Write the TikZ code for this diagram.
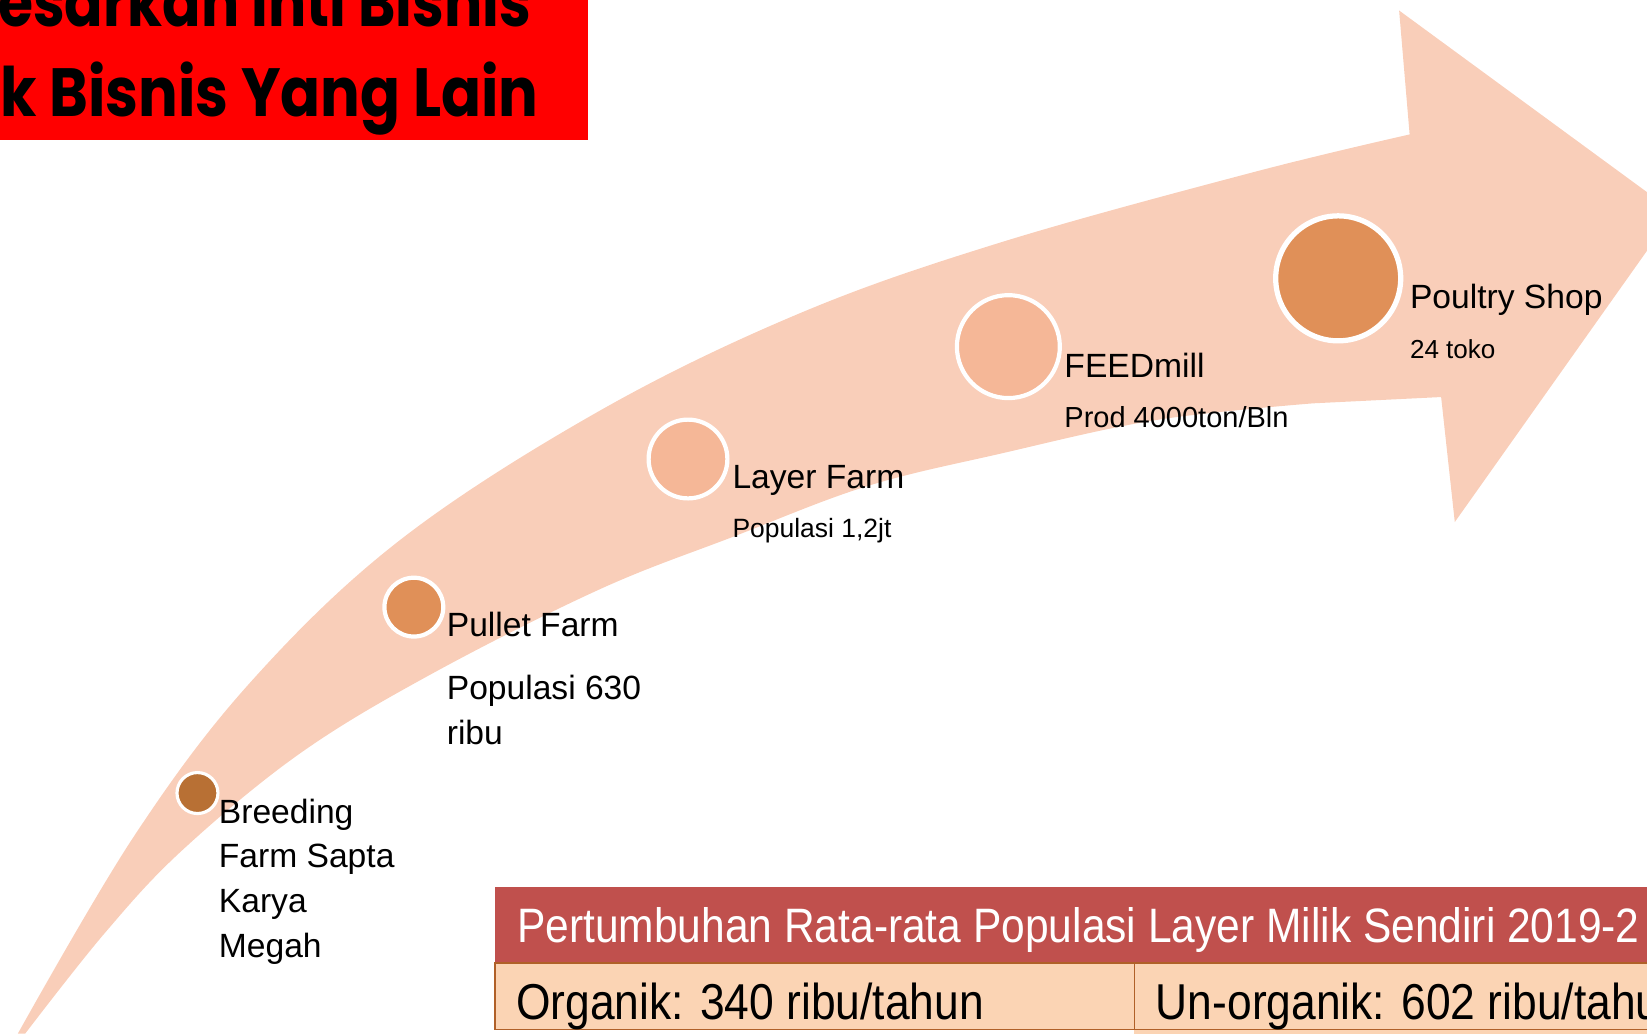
\documentclass[tikz,border=0pt]{standalone}
\usepackage{fontspec}
\setmainfont{Liberation Sans}
\newfontfamily\narrowfont{Liberation Sans}[FakeStretch=0.88]
\newfontfamily\bannerfont{Poppins}
\definecolor{arrowfill}{RGB}{249,206,185}
\definecolor{darkdot}{RGB}{184,112,52}
\definecolor{middot}{RGB}{224,144,88}
\definecolor{lightdot}{RGB}{245,183,151}
\definecolor{headred}{RGB}{192,80,77}
\definecolor{rowpeach}{RGB}{251,212,180}
\definecolor{rowline}{RGB}{176,96,40}
\begin{document}
\begin{tikzpicture}[x=0.5pt,y=-0.5pt,
  lbl/.style={anchor=base west, inner sep=0pt, font=\fontsize{16pt}{19pt}\selectfont},
  sublbl/.style={anchor=base west, inner sep=0pt},
  dot/.style={circle, draw=white, inner sep=0pt, line width=2pt},
  cellbox/.style={fill=rowpeach, draw=rowline, line width=0.75pt}]
\path[use as bounding box] (0,0) rectangle (1568,984);
\clip (0,0) rectangle (1568,984);
% banner
\fill[red] (0,-5) rectangle (560,133);
\node[anchor=base west, inner sep=0pt] (ban1) at (-2,25)
  {\resizebox{253.5pt}{26pt}{\bannerfont\bfseries esarkan Inti Bisnis}};
\node[anchor=base west, inner sep=0pt] (ban2) at (0,111)
  {\resizebox{256pt}{26pt}{\bannerfont\bfseries k Bisnis Yang Lain}};
% curved arrow
\fill[arrowfill] plot[smooth, tension=0.6] coordinates {(17,984) (127,797) (238,650) (381,514) (571,391) (762,298) (952,231) (1193,164) (1342,128)}
  -- (1332,10) -- (1594,202) -- (1385,497) -- (1372,378)
  -- plot[smooth, tension=0.6] coordinates {(1250,384) (1100,400) (952,432) (825,463) (698,511) (571,561) (412,641) (286,717) (174,809) (100,888) (24,984)}
  -- cycle;
% circles
\node[dot, fill=darkdot, line width=1.5pt, minimum size=19.5pt] (breed) at (188,755) {};
\node[dot, fill=middot, minimum size=28pt] (pullet) at (394,578) {};
\node[dot, fill=lightdot, minimum size=37.5pt] (layer) at (655,437) {};
\node[dot, fill=lightdot, minimum size=49pt] (feed) at (960,330) {};
\node[dot, fill=middot, line width=2.5pt, minimum size=59.5pt] (shop) at (1274,265) {};
% labels
\node[lbl] (breedA) at (208,784) {Breeding};
\node[lbl] (breedB) at (208,826) {Farm Sapta};
\node[lbl] (breedC) at (208,869) {Karya};
\node[lbl] (breedD) at (208,912) {Megah};
\node[lbl] (pulletA) at (425,606) {Pullet Farm};
\node[lbl] (pulletB) at (425,666) {Populasi 630};
\node[lbl] (pulletC) at (425,709) {ribu};
\node[lbl] (layerA) at (697,465) {Layer Farm};
\node[sublbl, font=\fontsize{12.6pt}{15pt}\selectfont] (layerB) at (697,512) {Populasi 1,2jt};
\node[lbl] (feedA) at (1013,359) {FEEDmill};
\node[sublbl, font=\fontsize{13.8pt}{16pt}\selectfont] (feedB) at (1013,407) {Prod 4000ton/Bln};
\node[lbl] (shopA) at (1342,294) {Poultry Shop};
\node[sublbl, font=\fontsize{12.4pt}{15pt}\selectfont] (shopB) at (1342,341) {24 toko};
% table
\fill[headred] (471,844) rectangle (1575,917);
\fill[rowpeach] (1080,980) rectangle (1575,990);
\path[cellbox] (471,917) rectangle (1080,980);
\path[cellbox] (1080,917) rectangle (1580,980);
\node[anchor=base west, inner sep=0pt, text=white, font=\narrowfont\fontsize{23pt}{27pt}\selectfont] (head) at (492,897) {Pertumbuhan Rata-rata Populasi Layer Milik Sendiri 2019-2};
\node[anchor=base west, inner sep=0pt, font=\narrowfont\fontsize{24pt}{28pt}\selectfont] (org) at (491,971) {Organik: 340 ribu/tahun};
\node[anchor=base west, inner sep=0pt, font=\narrowfont\fontsize{24pt}{28pt}\selectfont] (unorg) at (1100,971) {Un-organik: 602 ribu/tahu};
\end{tikzpicture}
\end{document}
